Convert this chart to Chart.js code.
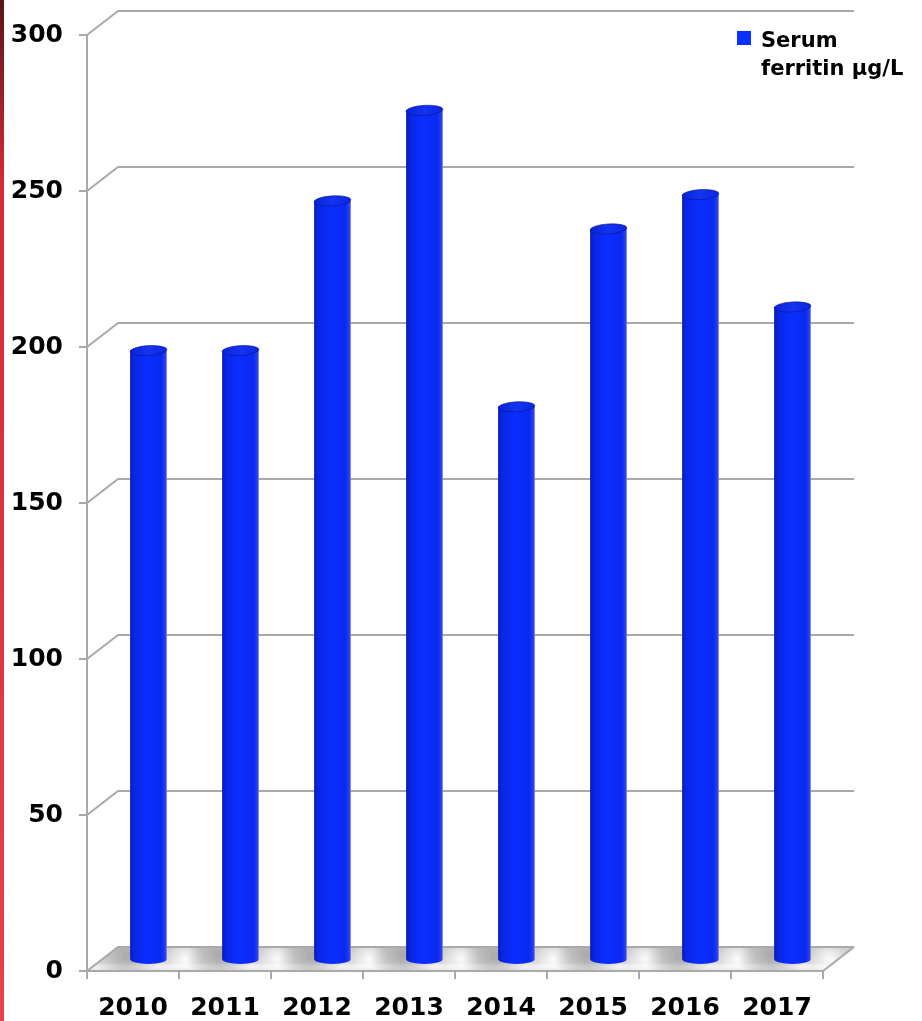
<!DOCTYPE html>
<html>
<head>
<meta charset="utf-8">
<script src="https://cdn.jsdelivr.net/npm/chart.js@4.4.0/dist/chart.umd.min.js"></script>
<style>
  html, body { margin: 0; padding: 0; background: #fff; }
  #wrap { position: relative; width: 922px; height: 1021px; }
  #edge { position: absolute; left: 0; top: 0; width: 4px; height: 1021px;
          background: linear-gradient(#5a1418, #d62a36 18%, #e8404c); }
  canvas { position: absolute; left: 0; top: 0; }
</style>
</head>
<body>
<div id="wrap">
  <canvas id="ferritinChart" width="922" height="1021"></canvas>
  <div id="edge"></div>
</div>
<script>
const years = ["2010", "2011", "2012", "2013", "2014", "2015", "2016", "2017"];
const ferritin = [195, 195, 243, 272, 177, 234, 245, 209];
const seriesLabel = ["Serum", "ferritin μg/L"];
const yMin = 0;
const yMax = 300;
const yStep = 50;

// depth of the 3d box (back wall offset from the front axis)
const depthX = 31;
const depthY = -24;
const lineGray = "#a9a9a9";
const labelFont = { family: "DejaVu Sans", weight: "bold", size: 25 };

// back wall gridlines, side diagonals and floor
const wallPlugin = {
  id: "wall",
  beforeDatasetsDraw(chart) {
    const { ctx, chartArea: a } = chart;
    const y = chart.scales.y;
    const y0 = y.getPixelForValue(0);
    ctx.save();

    // floor slab
    ctx.beginPath();
    ctx.moveTo(a.left, y0);
    ctx.lineTo(a.right, y0);
    ctx.lineTo(a.right + depthX, y0 + depthY);
    ctx.lineTo(a.left + depthX, y0 + depthY);
    ctx.closePath();
    const fg = ctx.createLinearGradient(0, y0 + depthY, 0, y0);
    fg.addColorStop(0, "#cdcdcd");
    fg.addColorStop(0.65, "#dcdcdc");
    fg.addColorStop(0.8, "#f2f2f2");
    fg.addColorStop(1, "#e6e6e6");
    ctx.fillStyle = fg;
    ctx.fill();
    ctx.clip();

    // soft shadow / shine around each bar foot
    const meta = chart.getDatasetMeta(0);
    meta.data.forEach((bar) => {
      const cx = bar.x + depthX / 2;
      const cy = y0 + depthY / 2;
      const sh = ctx.createRadialGradient(cx - bar.width * 0.6, cy - 2, 2, cx - bar.width * 0.6, cy - 2, 32);
      sh.addColorStop(0, "rgba(110,110,110,0.4)");
      sh.addColorStop(1, "rgba(110,110,110,0)");
      ctx.fillStyle = sh;
      ctx.fillRect(cx - 80, cy - 20, 120, 40);
      const hl = ctx.createRadialGradient(cx + bar.width * 1.0, cy, 1, cx + bar.width * 1.0, cy, 18);
      hl.addColorStop(0, "rgba(255,255,255,0.85)");
      hl.addColorStop(1, "rgba(255,255,255,0)");
      ctx.fillStyle = hl;
      ctx.fillRect(cx, cy - 20, 60, 40);
    });
    ctx.restore();

    ctx.save();
    ctx.strokeStyle = lineGray;
    ctx.lineWidth = 2;
    ctx.beginPath();
    // floor outline
    ctx.moveTo(a.left, y0);
    ctx.lineTo(a.right, y0);
    ctx.lineTo(a.right + depthX, y0 + depthY);
    // gridlines on the left side wall and back wall
    y.ticks.forEach((t) => {
      const py = y.getPixelForValue(t.value);
      ctx.moveTo(a.left, py);
      ctx.lineTo(a.left + depthX, py + depthY);
      ctx.lineTo(a.right + depthX, py + depthY);
    });
    ctx.stroke();
    ctx.restore();
  },

  // cylinders drawn from the bar elements, pushed to mid depth
  afterDatasetsDraw(chart) {
    const { ctx } = chart;
    const meta = chart.getDatasetMeta(0);
    ctx.save();
    meta.data.forEach((bar) => {
      const cx = bar.x + depthX / 2;
      const top = bar.y + depthY / 2;
      const bottom = bar.base + depthY / 2 + 1;
      const rx = bar.width / 2;
      const ry = 5;

      const g = ctx.createLinearGradient(cx - rx, 0, cx + rx, 0);
      g.addColorStop(0, "#0a1cb8");
      g.addColorStop(0.12, "#0a26e6");
      g.addColorStop(0.45, "#0b2eff");
      g.addColorStop(0.85, "#0a2af2");
      g.addColorStop(0.96, "#2a40e8");
      g.addColorStop(1, "#8890e8");
      ctx.fillStyle = g;
      ctx.beginPath();
      ctx.moveTo(cx - rx, top);
      ctx.lineTo(cx - rx, bottom);
      ctx.ellipse(cx, bottom, rx, ry, 0, Math.PI, 0, true);
      ctx.lineTo(cx + rx, top);
      ctx.closePath();
      ctx.fill();

      // lid
      const lg = ctx.createLinearGradient(cx - rx, 0, cx + rx, 0);
      lg.addColorStop(0, "#0a22d8");
      lg.addColorStop(0.5, "#1434f0");
      lg.addColorStop(1, "#0a26e0");
      ctx.fillStyle = lg;
      ctx.beginPath();
      ctx.ellipse(cx, top, rx, ry, -0.06, 0, Math.PI * 2);
      ctx.fill();
      ctx.strokeStyle = "rgba(10,20,150,0.6)";
      ctx.lineWidth = 1;
      ctx.stroke();
    });
    ctx.restore();
  },

  // two-line legend in the top right corner
  afterDraw(chart) {
    const { ctx } = chart;
    ctx.save();
    ctx.fillStyle = "#0a30ff";
    ctx.fillRect(737, 31, 14, 14);
    ctx.fillStyle = "#000";
    ctx.font = "bold 21px 'DejaVu Sans'";
    ctx.textBaseline = "alphabetic";
    ctx.textAlign = "left";
    ctx.fillText(seriesLabel[0], 761, 47);
    ctx.fillText(seriesLabel[1], 761, 75);
    ctx.restore();
  },
};

const ctx = document.getElementById("ferritinChart").getContext("2d");
new Chart(ctx, {
  type: "bar",
  data: {
    labels: years,
    datasets: [
      {
        label: seriesLabel.join(" "),
        data: ferritin,
        backgroundColor: "rgba(0,0,0,0)",
        borderWidth: 0,
        barPercentage: 0.4,
        categoryPercentage: 1,
      },
    ],
  },
  options: {
    responsive: false,
    animation: false,
    layout: { padding: { top: 35, right: 99, left: 0, bottom: 0 } },
    plugins: {
      legend: { display: false },
      tooltip: { enabled: false },
    },
    scales: {
      x: {
        afterFit: (s) => { s.height = 50; },
        grid: {
          drawOnChartArea: false,
          tickLength: 8,
          color: lineGray,
          lineWidth: 2,
        },
        border: { color: lineGray, width: 2 },
        ticks: { color: "#000", font: labelFont, padding: 14 },
      },
      y: {
        min: yMin,
        max: yMax,
        afterFit: (s) => { s.width = 87; },
        grid: {
          drawOnChartArea: false,
          tickLength: 8,
          color: lineGray,
          lineWidth: 2,
        },
        border: { color: lineGray, width: 2 },
        ticks: { stepSize: yStep, color: "#000", font: labelFont, padding: 16 },
      },
    },
  },
  plugins: [wallPlugin],
});
</script>
</body>
</html>
